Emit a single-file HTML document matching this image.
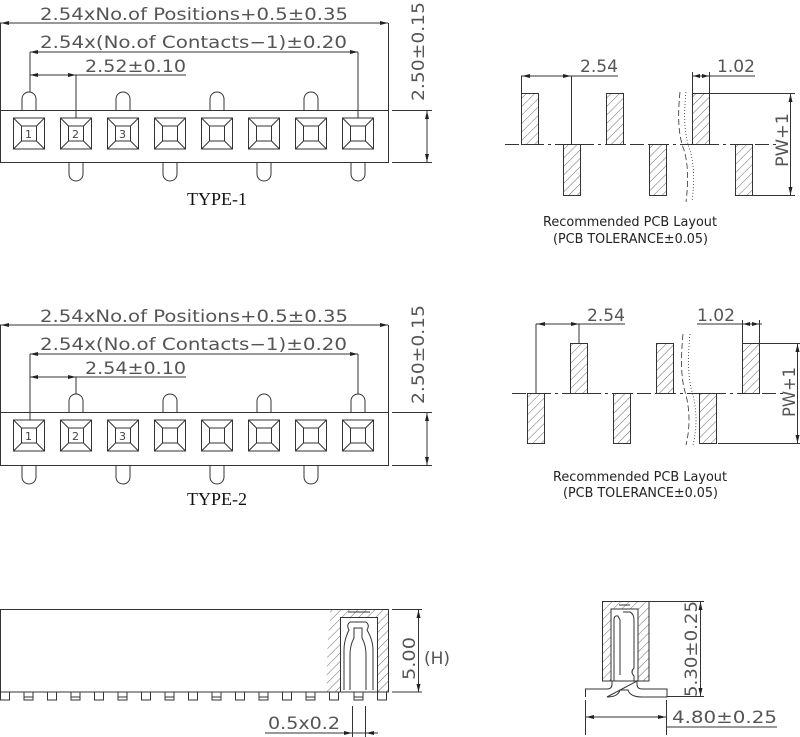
<!DOCTYPE html>
<html><head><meta charset="utf-8"><style>
html,body{margin:0;padding:0;background:#fff;}
svg{display:block;}
.t{font-family:"DejaVu Sans","Liberation Sans",sans-serif;fill:#555;font-size:17px;}
.c{font-family:"DejaVu Sans","Liberation Sans",sans-serif;fill:#222;font-size:13px;}
.ty{font-family:"Liberation Serif",serif;fill:#111;font-size:18px;}
.n{font-family:"DejaVu Sans",sans-serif;fill:#444;font-size:11px;}
</style></head><body>
<svg width="800" height="737" viewBox="0 0 800 737" xmlns="http://www.w3.org/2000/svg">
<defs>
<pattern id="h" width="6" height="6" patternUnits="userSpaceOnUse" patternTransform="rotate(45)">
<line x1="0" y1="0" x2="0" y2="6" stroke="#444" stroke-width="0.8"/></pattern>
<g id="sq" fill="none" stroke="#333" stroke-width="1">
<rect x="-15.5" y="0" width="31" height="31"/><rect x="-7.5" y="8" width="15" height="15"/>
<path d="M-15.5 0L-7.5 8M15.5 0L7.5 8M-15.5 31L-7.5 23M15.5 31L7.5 23"/></g>
<path id="pt" d="M-7 0V-11A7 7 0 0 1 7 -11V0" fill="none" stroke="#333"/>
<path id="pb" d="M-7 0V11A7 7 0 0 0 7 11V0" fill="none" stroke="#333"/>
<path id="pin" d="M-4.5 0V8H4.5V0" fill="none" stroke="#333"/>
</defs>
<g stroke="#333" stroke-width="1" fill="none">
<rect x="0.5" y="110.5" width="388" height="52"/>
<line x1="0.5" y1="23" x2="0.5" y2="110"/><line x1="388.5" y1="23" x2="388.5" y2="110"/>
<line x1="0" y1="23" x2="388" y2="23"/><line x1="30" y1="52" x2="358" y2="52"/>
<line x1="30" y1="52" x2="30" y2="92"/><line x1="358" y1="52" x2="358" y2="118"/>
<line x1="30" y1="75" x2="76" y2="75"/><line x1="76" y1="75" x2="76" y2="118"/>
<line x1="76" y1="75" x2="186" y2="75"/>
<line x1="392" y1="110.5" x2="432" y2="110.5"/><line x1="392" y1="162.5" x2="432" y2="162.5"/>
<line x1="427" y1="110" x2="427" y2="163"/>
<rect x="0.5" y="412.5" width="388" height="53"/>
<line x1="0.5" y1="325" x2="0.5" y2="412"/><line x1="388.5" y1="325" x2="388.5" y2="412"/>
<line x1="0" y1="325" x2="388" y2="325"/><line x1="30" y1="354" x2="358" y2="354"/>
<line x1="30" y1="354" x2="30" y2="420"/><line x1="358" y1="354" x2="358" y2="394"/>
<line x1="30" y1="377" x2="76" y2="377"/><line x1="76" y1="377" x2="76" y2="394"/>
<line x1="76" y1="377" x2="186" y2="377"/>
<line x1="392" y1="412.5" x2="432" y2="412.5"/><line x1="392" y1="465.5" x2="432" y2="465.5"/>
<line x1="427" y1="412" x2="427" y2="466"/>
</g>
<g>
<use href="#sq" x="29" y="118"/><use href="#sq" x="76" y="118"/><use href="#sq" x="123" y="118"/><use href="#sq" x="170" y="118"/>
<use href="#sq" x="217" y="118"/><use href="#sq" x="264" y="118"/><use href="#sq" x="311" y="118"/><use href="#sq" x="358" y="118"/>
<use href="#pt" x="29" y="110"/><use href="#pt" x="123" y="110"/><use href="#pt" x="217" y="110"/><use href="#pt" x="311" y="110"/>
<use href="#pb" x="76" y="163"/><use href="#pb" x="170" y="163"/><use href="#pb" x="264" y="163"/><use href="#pb" x="358" y="163"/>
<use href="#sq" x="29" y="420"/><use href="#sq" x="76" y="420"/><use href="#sq" x="123" y="420"/><use href="#sq" x="170" y="420"/>
<use href="#sq" x="217" y="420"/><use href="#sq" x="264" y="420"/><use href="#sq" x="311" y="420"/><use href="#sq" x="358" y="420"/>
<use href="#pt" x="76" y="412"/><use href="#pt" x="170" y="412"/><use href="#pt" x="264" y="412"/><use href="#pt" x="358" y="412"/>
<use href="#pb" x="29" y="466"/><use href="#pb" x="123" y="466"/><use href="#pb" x="217" y="466"/><use href="#pb" x="311" y="466"/>
</g>
<g fill="#222">
<path d="M1 23l8-2v4z"/><path d="M388 23l-8-2v4z"/><path d="M30 52l8-2v4z"/><path d="M358 52l-8-2v4z"/>
<path d="M30 75l8-2v4z"/><path d="M76 75l-8-2v4z"/><path d="M427 111l-2 8h4z"/><path d="M427 162l-2-8h4z"/>
<path d="M1 325l8-2v4z"/><path d="M388 325l-8-2v4z"/><path d="M30 354l8-2v4z"/><path d="M358 354l-8-2v4z"/>
<path d="M30 377l8-2v4z"/><path d="M76 377l-8-2v4z"/><path d="M427 413l-2 8h4z"/><path d="M427 465l-2-8h4z"/>
</g>
<text class="t" x="40" y="20" textLength="308" lengthAdjust="spacingAndGlyphs">2.54xNo.of  Positions+0.5±0.35</text>
<text class="t" x="40" y="48" textLength="307" lengthAdjust="spacingAndGlyphs">2.54x(No.of  Contacts−1)±0.20</text>
<text class="t" x="85" y="72" textLength="101" lengthAdjust="spacingAndGlyphs">2.52±0.10</text>
<text class="t" transform="translate(424,101) rotate(-90)" textLength="99" lengthAdjust="spacingAndGlyphs">2.50±0.15</text>
<text class="n" x="25" y="138">1</text><text class="n" x="72" y="138">2</text><text class="n" x="119" y="138">3</text>
<text class="ty" x="217" y="205" text-anchor="middle">TYPE-1</text>
<text class="t" x="40" y="322" textLength="308" lengthAdjust="spacingAndGlyphs">2.54xNo.of  Positions+0.5±0.35</text>
<text class="t" x="40" y="350" textLength="307" lengthAdjust="spacingAndGlyphs">2.54x(No.of  Contacts−1)±0.20</text>
<text class="t" x="85" y="374" textLength="101" lengthAdjust="spacingAndGlyphs">2.54±0.10</text>
<text class="t" transform="translate(424,404) rotate(-90)" textLength="99" lengthAdjust="spacingAndGlyphs">2.50±0.15</text>
<text class="n" x="25" y="440">1</text><text class="n" x="72" y="440">2</text><text class="n" x="119" y="440">3</text>
<text class="ty" x="217" y="505" text-anchor="middle">TYPE-2</text>

<g stroke="#333" stroke-width="1" fill="url(#h)">
<rect x="521.5" y="93.5" width="17" height="51"/><rect x="606.5" y="93.5" width="17" height="51"/><rect x="692.5" y="93.5" width="17" height="51"/>
<rect x="563.5" y="144.5" width="17" height="51"/><rect x="649.5" y="144.5" width="17" height="51"/><rect x="735.5" y="144.5" width="17" height="51"/>
</g>
<g stroke="#333" stroke-width="1" fill="none">
<line x1="505" y1="144.5" x2="780" y2="144.5" stroke-dasharray="14,4,3,4"/>
<line x1="521.5" y1="76" x2="521.5" y2="93"/><line x1="571.5" y1="76" x2="571.5" y2="144"/><line x1="521" y1="76" x2="618" y2="76"/>
<line x1="692.5" y1="72" x2="692.5" y2="93"/><line x1="709.5" y1="72" x2="709.5" y2="93"/><line x1="692" y1="76" x2="755" y2="76"/>
<line x1="710" y1="93.5" x2="795" y2="93.5"/><line x1="753" y1="195.5" x2="795" y2="195.5"/><line x1="790.5" y1="93" x2="790.5" y2="195"/>
<path d="M680 92Q676 130 684 150Q690 170 686 202" stroke-dasharray="6,3" stroke-width="0.8"/>
<path d="M686 92Q682 130 690 150Q696 170 692 202" stroke-dasharray="1,2" stroke-width="0.8"/>
</g>
<g fill="#222"><path d="M522 76l8-2v4z"/><path d="M571 76l-8-2v4z"/><path d="M693 76l7-2v4z"/><path d="M709 76l-7-2v4z"/>
<path d="M790.5 94l-2 8h4z"/><path d="M790.5 195l-2-8h4z"/></g>
<text class="t" x="580" y="72" textLength="38" lengthAdjust="spacingAndGlyphs">2.54</text><text class="t" x="717" y="72" textLength="38" lengthAdjust="spacingAndGlyphs">1.02</text>
<text class="t" transform="translate(788,167) rotate(-90)" textLength="54" lengthAdjust="spacingAndGlyphs">PW+1</text>
<text class="c" x="543" y="226" textLength="174" lengthAdjust="spacingAndGlyphs">Recommended PCB Layout</text>
<text class="c" x="553" y="243" textLength="155" lengthAdjust="spacingAndGlyphs">(PCB TOLERANCE±0.05)</text>

<g stroke="#333" stroke-width="1" fill="url(#h)">
<rect x="570.5" y="343.5" width="17" height="50"/><rect x="656.5" y="343.5" width="17" height="50"/><rect x="742.5" y="343.5" width="17" height="50"/>
<rect x="527.5" y="393.5" width="17" height="50"/><rect x="613.5" y="393.5" width="17" height="50"/><rect x="699.5" y="393.5" width="17" height="50"/>
</g>
<g stroke="#333" stroke-width="1" fill="none">
<line x1="512" y1="393.5" x2="785" y2="393.5" stroke-dasharray="14,4,3,4"/>
<line x1="536" y1="324" x2="536" y2="393"/><line x1="579" y1="324" x2="579" y2="343"/><line x1="536" y1="324" x2="625" y2="324"/>
<line x1="742.5" y1="320" x2="742.5" y2="343"/><line x1="759.5" y1="320" x2="759.5" y2="343"/><line x1="697" y1="324" x2="762" y2="324"/>
<line x1="760" y1="343.5" x2="802" y2="343.5"/><line x1="718" y1="443.5" x2="802" y2="443.5"/><line x1="797.5" y1="343" x2="797.5" y2="443"/>
<path d="M683 334Q679 375 686 395Q692 420 686 445" stroke-dasharray="6,3" stroke-width="0.8"/>
<path d="M690 334Q686 375 693 395Q699 420 693 445" stroke-dasharray="1,2" stroke-width="0.8"/>
</g>
<g fill="#222"><path d="M537 324l8-2v4z"/><path d="M579 324l-8-2v4z"/><path d="M743 324l7-2v4z"/><path d="M759 324l-7-2v4z"/>
<path d="M797.5 344l-2 8h4z"/><path d="M797.5 443l-2-8h4z"/></g>
<text class="t" x="587" y="321" textLength="38" lengthAdjust="spacingAndGlyphs">2.54</text><text class="t" x="697" y="321" textLength="38" lengthAdjust="spacingAndGlyphs">1.02</text>
<text class="t" transform="translate(795,417) rotate(-90)" textLength="50" lengthAdjust="spacingAndGlyphs">PW+1</text>
<text class="c" x="553" y="481" textLength="174" lengthAdjust="spacingAndGlyphs">Recommended PCB Layout</text>
<text class="c" x="563" y="497" textLength="155" lengthAdjust="spacingAndGlyphs">(PCB TOLERANCE±0.05)</text>

<g stroke="#333" stroke-width="1" fill="none">
<path d="M330 609.5H388.5V692H377V617H340V692H327Q326 650 330 620Z" fill="url(#h)" stroke="none"/>
<rect x="0.5" y="609.5" width="388" height="82.5"/>
<rect x="340.5" y="617.5" width="37" height="74.5" fill="#fff"/>
<path d="M344 690V650Q344 640 349 630Q346 625 350 622H366Q370 625 367 630Q373 640 373 650V690"/>
<path d="M350 690V655Q350 645 354 638V628H362V638Q366 645 366 655V690"/>
<path d="M348 612H370"/>
<line x1="392" y1="609.5" x2="422" y2="609.5"/><line x1="392" y1="692" x2="422" y2="692"/>
<line x1="418.5" y1="610" x2="418.5" y2="692"/>
<line x1="352.5" y1="706" x2="352.5" y2="737"/><line x1="365.5" y1="706" x2="365.5" y2="737"/>
<line x1="265" y1="733" x2="378" y2="733"/>
</g>
<g>
<use href="#pin" x="5" y="692"/><use href="#pin" x="28.5" y="692"/><use href="#pin" x="52" y="692"/><use href="#pin" x="75.5" y="692"/>
<use href="#pin" x="99" y="692"/><use href="#pin" x="122.5" y="692"/><use href="#pin" x="146" y="692"/><use href="#pin" x="169.5" y="692"/>
<use href="#pin" x="193" y="692"/><use href="#pin" x="216.5" y="692"/><use href="#pin" x="240" y="692"/><use href="#pin" x="263.5" y="692"/>
<use href="#pin" x="287" y="692"/><use href="#pin" x="310.5" y="692"/><use href="#pin" x="334" y="692"/><use href="#pin" x="358.5" y="692"/><use href="#pin" x="382" y="692"/>
</g>
<g stroke="#333" fill="none"><path d="M24 697H33M71 697H80M118 697H127M165 697H174M212 697H221M259 697H268M306 697H315M354 697H363"/></g>
<g fill="#222"><path d="M418.5 610l-2 8h4z"/><path d="M418.5 692l-2-8h4z"/><path d="M352 733l-8-2v4z"/><path d="M366 733l8-2v4z"/></g>
<text class="t" transform="translate(415,680) rotate(-90)" textLength="43" lengthAdjust="spacingAndGlyphs">5.00</text>
<text class="t" x="424" y="664" font-size="13">(H)</text>
<text class="t" x="268" y="729" textLength="72" lengthAdjust="spacingAndGlyphs">0.5x0.2</text>

<g stroke="#333" stroke-width="1" fill="none">
<path d="M602.5 601.5H649V681H638V609H611V681H602.5Z" fill="url(#h)"/>
<rect x="611" y="609" width="27" height="72" fill="#fff"/>
<path d="M619 605H630"/>
<path d="M614 681V620Q614 615 618 616L620 620V675M623 612H630Q634 614 634 620V668Q630 672 634 676V681"/>
<path d="M585.5 697V689H607Q612 689 612 684V681M637 681V684Q637 689 642 689H667V697H642Q630 697 628 690H620Q618 697 607 697Z"/>
<line x1="649" y1="601.5" x2="704" y2="601.5"/><line x1="667" y1="696.5" x2="704" y2="696.5"/>
<line x1="700.5" y1="601" x2="700.5" y2="696"/>
<line x1="585.5" y1="700" x2="585.5" y2="735"/><line x1="666.5" y1="700" x2="666.5" y2="735"/>
<line x1="585" y1="717" x2="666" y2="717"/><line x1="666" y1="727" x2="777" y2="727"/>
</g>
<g fill="#222"><path d="M700.5 602l-2 8h4z"/><path d="M700.5 696l-2-8h4z"/><path d="M586 717l8-2v4z"/><path d="M666 717l-8-2v4z"/></g>
<text class="t" transform="translate(697,697) rotate(-90)" textLength="96" lengthAdjust="spacingAndGlyphs">5.30±0.25</text>
<text class="t" x="672" y="723" textLength="105" lengthAdjust="spacingAndGlyphs">4.80±0.25</text>
</svg>
</body></html>
